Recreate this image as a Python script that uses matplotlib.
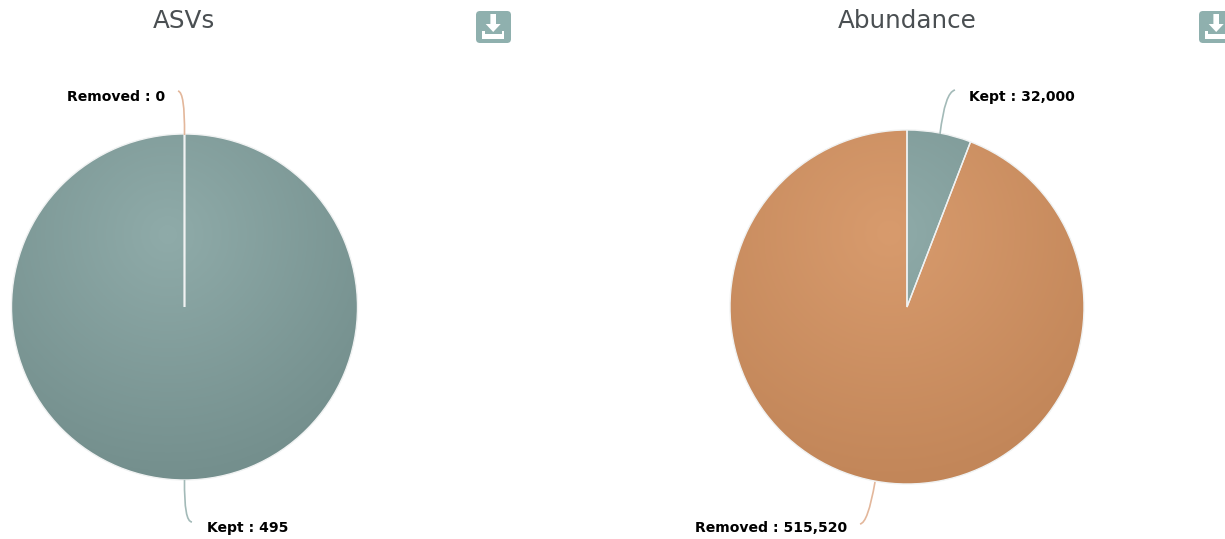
import numpy as np
import matplotlib
matplotlib.use("Agg")
import matplotlib.pyplot as plt
from matplotlib.colors import LinearSegmentedColormap
from matplotlib.patches import FancyBboxPatch, Polygon, PathPatch
from matplotlib.path import Path

W, H = 1225, 539
titles = ["ASVs", "Abundance"]
categories = ["Kept", "Removed"]
asv_values = [495, 0]
abundance_values = [32000, 515520]

KEPT_LIGHT, KEPT_DARK = "#8FABA9", "#748F8D"
REM_LIGHT, REM_DARK = "#D89B6D", "#C28659"
KEPT_LINE, REM_LINE = "#A3BAB8", "#E3B79B"

fig = plt.figure(figsize=(W / 100, H / 100), dpi=100)
ax = fig.add_axes([0, 0, 1, 1])
Y = lambda py: H - py


def gradient_pie(values, cx, cy, r):
    wedges, _ = ax.pie(values, center=(cx, Y(cy)), radius=r, startangle=90, counterclock=False,
                       frame=True, wedgeprops=dict(edgecolor="#F0F2F2", linewidth=1.0))
    cols = [(KEPT_LIGHT, KEPT_DARK), (REM_LIGHT, REM_DARK)]
    for k, (w, (c0, c1)) in enumerate(zip(wedges, cols)):
        if values[k] == 0:
            w.set_linewidth(1.6)
            continue
        n = 400
        xs = np.linspace(-1, 1, n)
        xx, yy = np.meshgrid(xs, xs)
        # radial gradient, focus above the centre
        d = np.clip(np.hypot(xx + 0.1, yy - 0.42) / 1.42, 0, 1)
        cmap = LinearSegmentedColormap.from_list("g", [c0, c1])
        im = ax.imshow(d, cmap=cmap, vmin=0, vmax=1, origin="lower",
                       extent=(cx - r, cx + r, Y(cy) - r, Y(cy) + r), zorder=w.get_zorder() - 0.1)
        w.set_facecolor("none")
        im.set_clip_path(w)
    return wedges


def icon(x0, y0, x1, y1):
    c = "#8FB0AE"
    ax.add_patch(FancyBboxPatch((x0 + 3, Y(y1) + 3), x1 - x0 - 6, y1 - y0 - 6,
                                boxstyle="round,pad=3,rounding_size=4", fc=c, ec="none", zorder=5))
    mx = (x0 + x1) / 2 - 0.3
    ax.add_patch(Polygon([(mx - 2.8, Y(y0 + 3)), (mx + 2.8, Y(y0 + 3)), (mx + 2.8, Y(y0 + 13)),
                          (mx + 7.5, Y(y0 + 13)), (mx, Y(y0 + 21)), (mx - 7.5, Y(y0 + 13)), (mx - 2.8, Y(y0 + 13))],
                         fc="white", ec="none", zorder=6))
    ax.add_patch(Polygon([(mx - 11, Y(y0 + 20)), (mx - 8.5, Y(y0 + 20)), (mx - 8.5, Y(y0 + 23)), (mx + 8.5, Y(y0 + 23)),
                          (mx + 8.5, Y(y0 + 20)), (mx + 11, Y(y0 + 20)), (mx + 11, Y(y0 + 28)), (mx - 11, Y(y0 + 28))],
                         fc="white", ec="none", zorder=6))


def connector(p0, ctrl, p1, color):
    path = Path([(p0[0], Y(p0[1])), (ctrl[0], Y(ctrl[1])), (p1[0], Y(p1[1]))],
                [Path.MOVETO, Path.CURVE3, Path.CURVE3])
    ax.add_patch(PathPatch(path, fc="none", ec=color, lw=1.2, zorder=1))


gradient_pie(asv_values, 184.5, 307, 173)
gradient_pie(abundance_values, 907, 307, 177)

title_kw = dict(family="DejaVu Sans", fontsize=17.7, color="#4A4F52", ha="center", va="center")
ax.text(184, Y(21), titles[0], **title_kw)
ax.text(907, Y(21), titles[1], **title_kw)

icon(476, 11, 511, 43)
icon(1199, 11, 1234, 43)

connector((184.5, 135), (185, 92), (178, 91), REM_LINE)
connector((184.5, 480), (184, 522), (192, 522), KEPT_LINE)
connector((940, 134), (945, 92), (955, 90), KEPT_LINE)
connector((875, 482), (868, 523), (860, 524), REM_LINE)

label_kw = dict(family="DejaVu Sans", fontweight="bold", fontsize=10.1, color="#000000", va="center")
ax.text(165, Y(97), f"{categories[1]} : {asv_values[1]:,}", ha="right", **label_kw)
ax.text(207, Y(528), f"{categories[0]} : {asv_values[0]:,}", ha="left", **label_kw)
ax.text(969, Y(97), f"{categories[0]} : {abundance_values[0]:,}", ha="left", **label_kw)
ax.text(847, Y(528), f"{categories[1]} : {abundance_values[1]:,}", ha="right", **label_kw)

ax.set_xlim(0, W)
ax.set_ylim(0, H)
ax.set_aspect("auto")
ax.axis("off")
fig.savefig("out.png", dpi=100, facecolor="white")
